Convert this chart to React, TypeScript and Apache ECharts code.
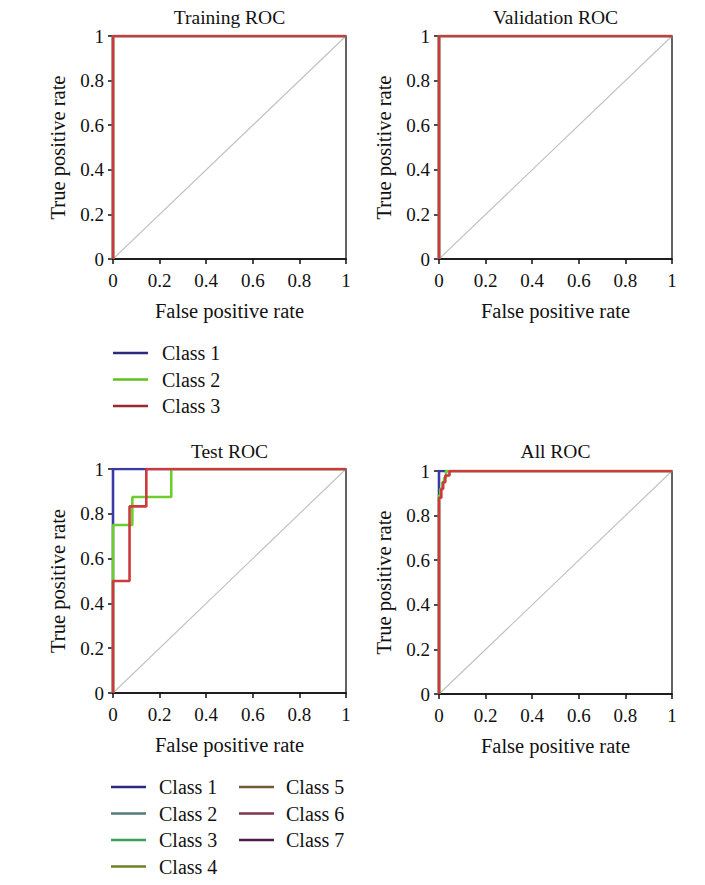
import React, { useEffect, useRef } from "react";
import * as echarts from "echarts";

// ---------- data ----------
const panelTitles = ["Training ROC", "Validation ROC", "Test ROC", "All ROC"];
const xAxisName = "False positive rate";
const yAxisName = "True positive rate";
const tickValues = [0, 0.2, 0.4, 0.6, 0.8, 1];
const diagonal = [[0, 0], [1, 1]];

const curveNames = ["Class 1", "Class 2", "Class 3"];
const curveColors = ["#3a3aa6", "#6ccd2c", "#cc3a3c"];

const trainClass1 = [[0, 0], [0, 1], [1, 1]];
const trainClass2 = [[0, 0], [0, 1], [1, 1]];
const trainClass3 = [[0, 0], [0, 1], [1, 1]];

const valClass1 = [[0, 0], [0, 1], [1, 1]];
const valClass2 = [[0, 0], [0, 1], [1, 1]];
const valClass3 = [[0, 0], [0, 1], [1, 1]];

const testClass1 = [[0, 0], [0, 1], [1, 1]];
const testClass2 = [[0, 0], [0, 0.75], [0.083, 0.75], [0.083, 0.875], [0.25, 0.875], [0.25, 1], [1, 1]];
const testClass3 = [[0, 0], [0, 0.5], [0.071, 0.5], [0.071, 0.833], [0.143, 0.833], [0.143, 1], [1, 1]];

const allClass1 = [[0, 0], [0, 1], [1, 1]];
const allClass2 = [[0, 0], [0, 0.89], [0.006, 0.89], [0.006, 0.92], [0.014, 0.92], [0.014, 0.95], [0.022, 0.95], [0.022, 0.97], [0.03, 0.97], [0.03, 1], [1, 1]];
const allClass3 = [[0, 0], [0, 0.88], [0.01, 0.88], [0.01, 0.92], [0.018, 0.92], [0.018, 0.95], [0.027, 0.95], [0.027, 0.98], [0.045, 0.98], [0.045, 1], [1, 1]];

const panelCurves = [
  [trainClass1, trainClass2, trainClass3],
  [valClass1, valClass2, valClass3],
  [testClass1, testClass2, testClass3],
  [allClass1, allClass2, allClass3],
];

const legend1Names = ["Class 1", "Class 2", "Class 3"];
const legend1Colors = ["#2c2a7e", "#5ec21c", "#982a2e"];
const legend2Names = ["Class 1", "Class 2", "Class 3", "Class 4", "Class 5", "Class 6", "Class 7"];
const legend2Colors = ["#2c2a7e", "#4f7b7b", "#3d9c5c", "#6f7f26", "#735a30", "#7f3550", "#4a1a4a"];

// ---------- layout ----------
const FONT = '"Liberation Serif", "Times New Roman", serif';
const grids = [
  { left: 113, top: 36, width: 233, height: 223 },
  { left: 439, top: 36, width: 233, height: 223 },
  { left: 113, top: 469, width: 233, height: 224 },
  { left: 439, top: 471, width: 233, height: 223 },
];
const titleY = [17, 17, 451, 451];

export default function App() {
  const ref = useRef<HTMLDivElement>(null);
  useEffect(() => {
    document.body.style.margin = "0";
    const chart = echarts.init(ref.current!, undefined, { renderer: "svg" });

    const grid = grids.map((g) => ({
      ...g,
      show: true,
      borderColor: "#111",
      borderWidth: 1.3,
      backgroundColor: "#fff",
      containLabel: false,
    }));

    const axisCommon = {
      type: "value",
      min: 0,
      max: 1,
      interval: 0.2,
      splitLine: { show: false },
      axisLine: { show: true, onZero: false, lineStyle: { color: "#111", width: 1.5 } },
      axisTick: { show: true, length: 5, lineStyle: { color: "#111", width: 1.5 } },
      axisLabel: {
        color: "#111",
        fontFamily: FONT,
        fontSize: 19,
        formatter: (v: number) => (tickValues.includes(+v.toFixed(1)) ? String(+v.toFixed(1)) : ""),
      },
      nameLocation: "middle",
      nameTextStyle: { color: "#111", fontFamily: FONT, fontSize: 20.5 },
    };

    const xAxis = grids.map((_, i) => ({
      ...axisCommon,
      gridIndex: i,
      name: xAxisName,
      nameGap: 41,
      axisLabel: { ...axisCommon.axisLabel, margin: 12 },
    }));
    const yAxis = grids.map((_, i) => ({
      ...axisCommon,
      gridIndex: i,
      name: yAxisName,
      nameGap: 45,
      axisLabel: { ...axisCommon.axisLabel, margin: 9 },
    }));

    const series: any[] = [];
    panelCurves.forEach((curves, i) => {
      series.push({
        type: "line",
        xAxisIndex: i,
        yAxisIndex: i,
        data: diagonal,
        showSymbol: false,
        silent: true,
        lineStyle: { color: "#c2c2c2", width: 1.2 },
        z: 2,
      });
      curves.forEach((c, k) => {
        series.push({
          type: "line",
          name: curveNames[k],
          xAxisIndex: i,
          yAxisIndex: i,
          data: c,
          showSymbol: false,
          lineStyle: { color: curveColors[k], width: 2.6 },
          z: 3 + k,
        });
      });
    });

    const graphic: any[] = [];
    panelTitles.forEach((t, i) => {
      const g = grids[i];
      graphic.push({
        type: "text",
        style: {
          text: t,
          x: g.left + g.width / 2,
          y: titleY[i],
          font: `19.5px ${FONT}`,
          fill: "#111",
          textAlign: "center",
          textVerticalAlign: "middle",
        },
      });
    });
    // legend 1
    legend1Names.forEach((n, k) => {
      const y = 353 + k * 26.5;
      graphic.push({
        type: "line",
        shape: { x1: 113, y1: y, x2: 148, y2: y },
        style: { stroke: legend1Colors[k], lineWidth: 2.5 },
      });
      graphic.push({
        type: "text",
        style: { text: n, x: 162, y, font: `20px ${FONT}`, fill: "#111", textVerticalAlign: "middle" },
      });
    });
    // legend 2
    legend2Names.forEach((n, k) => {
      const col = k < 4 ? 0 : 1;
      const row = k < 4 ? k : k - 4;
      const y = 787 + row * 26.5;
      const lx = col === 0 ? 111 : 239;
      const tx = col === 0 ? 159 : 286;
      graphic.push({
        type: "line",
        shape: { x1: lx, y1: y, x2: lx + 35, y2: y },
        style: { stroke: legend2Colors[k], lineWidth: 2.5 },
      });
      graphic.push({
        type: "text",
        style: { text: n, x: tx, y, font: `20px ${FONT}`, fill: "#111", textVerticalAlign: "middle" },
      });
    });

    chart.setOption({
      animation: false,
      backgroundColor: "#fff",
      grid,
      xAxis,
      yAxis,
      series,
      graphic,
    });
    return () => chart.dispose();
  }, []);
  return (
    <div
      ref={ref}
      style={{ position: "absolute", left: 0, top: 0, width: 705, height: 885 }}
    />
  );
}
